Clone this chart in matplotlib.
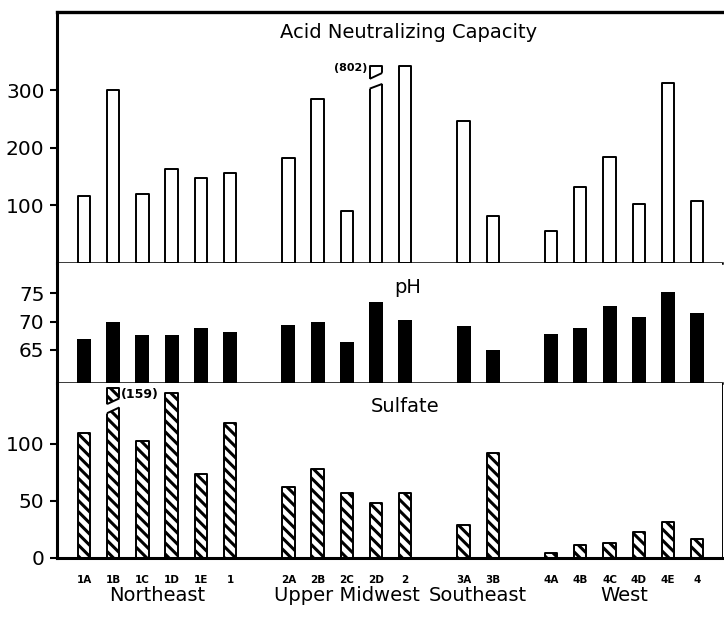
import numpy as np
import matplotlib
matplotlib.use("Agg")
import matplotlib.pyplot as plt
from matplotlib.patches import Polygon

plt.rcParams["font.family"] = ["DejaVu Sans"]
plt.rcParams["hatch.linewidth"] = 2.2

# data
SITES = ["1A", "1B", "1C", "1D", "1E", "1",
         "2A", "2B", "2C", "2D", "2",
         "3A", "3B",
         "4A", "4B", "4C", "4D", "4E", "4"]
REGIONS = ["Northeast", "Upper Midwest", "Southeast", "West"]
REGION_SIZES = [6, 5, 2, 6]

ANC = [116, 300, 120, 163, 148, 157,
       183, 285, 90, 802, 360,
       247, 82,
       56, 132, 184, 103, 313, 108]
PH = [66.9, 70.0, 67.6, 67.6, 68.8, 68.2,
      69.4, 70.0, 66.4, 73.4, 70.3,
      69.2, 65.0,
      67.8, 68.9, 72.7, 70.8, 75.2, 71.5]
SULFATE = [110, 159, 103, 145, 74, 118,
           62, 78, 57, 48, 57,
           29, 92,
           4, 11, 13, 23, 32, 17]

ANC_TICKS = [100, 200, 300]
PH_TICKS = [65, 70, 75]
SULFATE_TICKS = [0, 50, 100]

W = 0.42
LW = 1.4

# one empty slot between regions
pos = []
x = 0
for n in REGION_SIZES:
    pos.extend(range(x, x + n))
    x += n + 1
pos = np.array(pos, dtype=float)


def style(ax, ticks, ylim):
    ax.set_xlim(-0.925, 21.85)
    ax.set_ylim(*ylim)
    ax.set_yticks(ticks)
    ax.tick_params(axis="y", direction="out", length=5, width=1.5,
                   labelsize=14.5, pad=4)
    ax.spines["left"].set_linewidth(2.2)
    ax.spines["right"].set_visible(False)
    ax.spines["top"].set_visible(False)
    ax.spines["bottom"].set_linewidth(1.8)


def broken(ax, xc, lo, hi):
    # white slanted gap across a clipped bar
    x0, x1 = xc - W / 2, xc + W / 2
    p = 0.06
    s_lo = (lo[1] - lo[0]) / W
    s_hi = (hi[1] - hi[0]) / W
    gap = Polygon([(x0 - p, lo[0] - s_lo * p), (x1 + p, lo[1] + s_lo * p),
                   (x1 + p, hi[1] + s_hi * p), (x0 - p, hi[0] - s_hi * p)],
                  closed=True, fc="white", ec="none", zorder=3)
    ax.add_patch(gap)
    ax.plot([x0, x1], lo, color="black", lw=LW, zorder=4, solid_capstyle="butt")
    ax.plot([x0, x1], hi, color="black", lw=LW, zorder=4, solid_capstyle="butt")


fig = plt.figure(figsize=(7.24, 6.18), dpi=100)
fig.patch.set_facecolor("white")
L, WD = 0.0787, 0.9185
ax1 = fig.add_axes([L, 0.5744, WD, 0.4062])
ax2 = fig.add_axes([L, 0.3803, WD, 0.1942])
ax3 = fig.add_axes([L, 0.0971, WD, 0.2832])

# Acid neutralizing capacity
anc_cap = 343
ax1.bar(pos, np.minimum(ANC, anc_cap), width=W, facecolor="white",
        edgecolor="black", linewidth=LW, joinstyle="round")
style(ax1, ANC_TICKS, (0, 436))
ax1.spines["top"].set_visible(True)
ax1.spines["top"].set_linewidth(2.4)
ax1.set_xticks([])
i = int(np.argmax(ANC))
broken(ax1, pos[i], (303, 311), (320, 330))
ax1.text(pos[i] - 0.3, 339, f"({ANC[i]})", ha="right", va="center",
         fontsize=8, fontweight="bold")
ax1.text(11.1, 400, "Acid Neutralizing Capacity", ha="center", va="center",
         fontsize=14)

# pH
ax2.bar(pos, PH, width=0.48, color="black")
style(ax2, PH_TICKS, (59.2, 80.3))
ax2.set_xticks([])
ax2.text(11.1, 75.9, "pH", ha="center", va="center", fontsize=14)

# Sulfate
so4_cap = 149
ax3.bar(pos, np.minimum(SULFATE, so4_cap), width=W, facecolor="white",
        edgecolor="black", linewidth=LW, hatch="\\\\\\", joinstyle="round")
style(ax3, SULFATE_TICKS, (0, 153.5))
ax3.spines["right"].set_visible(True)
ax3.spines["right"].set_linewidth(0.7)
ax3.spines["bottom"].set_linewidth(2.2)
j = int(np.argmax(SULFATE[:6]))
broken(ax3, pos[j], (127, 132), (135, 140))
ax3.text(pos[j] + 0.25, 143, f"({SULFATE[j]})", ha="left", va="center",
         fontsize=9, fontweight="bold")
ax3.text(11.0, 133, "Sulfate", ha="center", va="center", fontsize=14)

ax3.set_xticks(pos)
ax3.set_xticklabels(SITES, fontsize=7.5, fontweight="bold")
ax3.tick_params(axis="x", length=0, pad=12)

start = 0
for name, n in zip(REGIONS, REGION_SIZES):
    cx = pos[start:start + n].mean()
    ax3.annotate(name, xy=(cx, 0), xycoords=("data", "axes fraction"),
                 xytext=(0, -20), textcoords="offset points",
                 ha="center", va="top", fontsize=14)
    start += n

fig.savefig("out.png", dpi=100, facecolor="white")
